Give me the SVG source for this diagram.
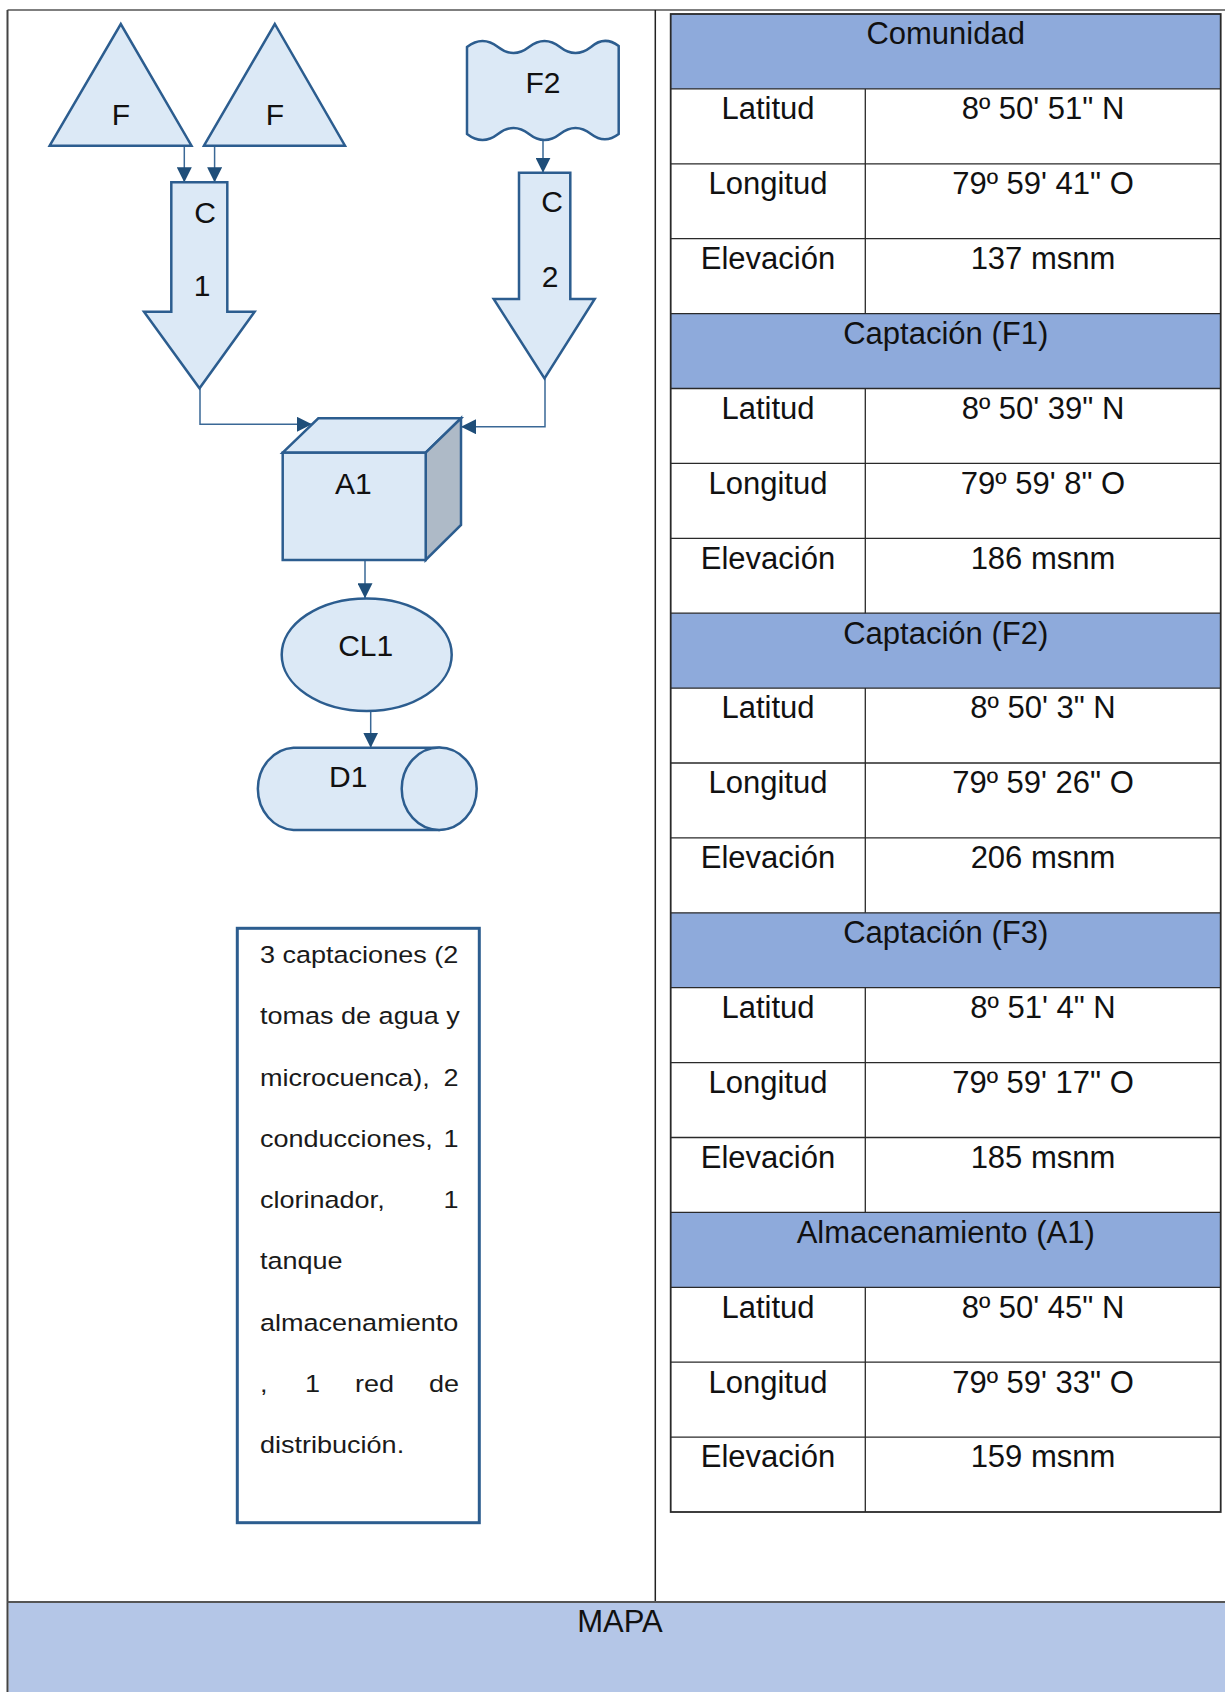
<svg xmlns="http://www.w3.org/2000/svg" width="1225" height="1692" viewBox="0 0 1225 1692">
<defs>
<style>
.shape{fill:#dce9f6;stroke:#2c5d8f;stroke-width:2.5;stroke-linejoin:miter}
.side{fill:#aebac7;stroke:#2c5d8f;stroke-width:2.5}
.lbl{font-family:"Liberation Sans",Arial,sans-serif;font-size:30px;fill:#111;text-anchor:middle}
.tt{font-family:"Liberation Sans",Arial,sans-serif;font-size:31px;fill:#111;text-anchor:middle}
.nt{font-family:"Liberation Sans",Arial,sans-serif;font-size:23.5px;fill:#1a1a1a}
.conn{fill:none;stroke:#3a6896;stroke-width:1.5}
.hdr{fill:#8eaadb}
.grid{stroke:#2a2a2a;stroke-width:1.3;fill:none}
</style>
<marker id="ah" viewBox="0 0 15 15" refX="15" refY="7.5" markerWidth="15" markerHeight="15" markerUnits="userSpaceOnUse" orient="auto">
<path d="M0,0 L15,7.5 L0,15 Z" fill="#1f4e79"/>
</marker>
</defs>
<rect x="0" y="0" width="1225" height="1692" fill="#ffffff"/>

<!-- frame -->
<g id="frame">
<rect x="8.5" y="1603" width="1216.5" height="89" fill="#b4c6e7"/>
<line x1="7.5" y1="10" x2="1225" y2="10" stroke="#555" stroke-width="1.5"/>
<line x1="7.5" y1="10" x2="7.5" y2="1692" stroke="#444" stroke-width="2"/>
<line x1="655.3" y1="10" x2="655.3" y2="1602" stroke="#222" stroke-width="1.5"/>
<line x1="7.5" y1="1602" x2="1225" y2="1602" stroke="#555" stroke-width="2"/>
<text class="tt" x="620" y="1632">MAPA</text>
</g>

<!-- connectors -->
<g id="connectors">
<path class="conn" d="M184.3,145.7 V182.3" marker-end="url(#ah)"/>
<path class="conn" d="M214.6,145.7 V182.3" marker-end="url(#ah)"/>
<path class="conn" d="M543,139 V172.7" marker-end="url(#ah)"/>
<path class="conn" d="M200,388.3 V424.3 H312" marker-end="url(#ah)"/>
<path class="conn" d="M545,378.3 V426.7 H461" marker-end="url(#ah)"/>
<path class="conn" d="M365,560 V598.3" marker-end="url(#ah)"/>
<path class="conn" d="M370.7,711 V747.7" marker-end="url(#ah)"/>
</g>

<g id="F1a">
<polygon class="shape" points="49.7,145.7 120.8,24 191.5,145.7"/>
<text class="lbl" x="121" y="125">F</text>
</g>
<g id="F1b">
<polygon class="shape" points="204,145.7 274.8,24 345,145.7"/>
<text class="lbl" x="275" y="125">F</text>
</g>
<g id="F2">
<path class="shape" d="M467,47 C477.3,39 487.7,39 498,47 C508.3,55 518.7,55 529,47 C539.3,39 549.7,39 560,47 C570.3,55 580.7,55 591,47 C600.2,39 609.5,39 618.7,46 L618.7,134 C609.5,141 600.2,141 591,134 C580.7,126 570.3,126 560,134 C549.7,142 539.3,142 529,134 C518.7,126 508.3,126 498,134 C487.7,142 477.3,142 467,134 Z"/>
<text class="lbl" x="543" y="93">F2</text>
</g>
<g id="C1">
<path class="shape" d="M171.3,182.3 H227.3 V311.7 H254.6 L199.5,388.3 L144,311.7 H171.3 Z"/>
<text class="lbl" x="205" y="222.7">C</text>
<text class="lbl" x="202" y="295.7">1</text>
</g>
<g id="C2">
<path class="shape" d="M519,172.7 H570.3 V299 H594.7 L544.5,378.3 L493.7,299 H519 Z"/>
<text class="lbl" x="552" y="212.3">C</text>
<text class="lbl" x="550" y="286.7">2</text>
</g>
<g id="A1">
<polygon class="shape" points="282.7,452.7 318.3,418.3 461,418.3 425.7,452.7"/>
<polygon class="side" points="425.7,452.7 461,418.3 461,525 425.7,560"/>
<rect class="shape" x="282.7" y="452.7" width="143" height="107.3"/>
<text class="lbl" x="353.3" y="494.3">A1</text>
</g>
<g id="CL1">
<ellipse class="shape" cx="366.7" cy="654.7" rx="85" ry="56.3"/>
<text class="lbl" x="365.7" y="655.7">CL1</text>
</g>
<g id="D1">
<path class="shape" d="M293.5,747.7 L439.2,747.7 A37.5,41.2 0 0 1 439.2,830 L293.5,830 A37.5,41.2 0 0 1 293.5,747.7 Z"/>
<ellipse class="shape" cx="439.2" cy="788.8" rx="37.5" ry="41.2"/>
<text class="lbl" x="348.3" y="787.3">D1</text>
</g>

<g id="note">
<rect x="237.3" y="928.3" width="242" height="594.4" fill="#ffffff" stroke="#2c5d8f" stroke-width="3"/>
<g transform="translate(260 0) scale(1.15 1)">
<text class="nt" x="0" y="963">3 captaciones (2</text>
<text class="nt" x="0" y="1024.3">tomas de agua y</text>
<text class="nt" x="0" y="1085.6">microcuenca),</text>
<text class="nt" x="172.6" y="1085.6" text-anchor="end">2</text>
<text class="nt" x="0" y="1146.9">conducciones,</text>
<text class="nt" x="172.6" y="1146.9" text-anchor="end">1</text>
<text class="nt" x="0" y="1208.2">clorinador,</text>
<text class="nt" x="172.6" y="1208.2" text-anchor="end">1</text>
<text class="nt" x="0" y="1269.5">tanque</text>
<text class="nt" x="0" y="1330.8">almacenamiento</text>
<text class="nt" x="0" y="1392.1">,</text>
<text class="nt" x="39.1" y="1392.1">1</text>
<text class="nt" x="82.6" y="1392.1">red</text>
<text class="nt" x="173" y="1392.1" text-anchor="end">de</text>
<text class="nt" x="0" y="1453.4">distribución.</text>
</g>
</g>

<g id="table">
<rect class="hdr" x="670.7" y="14" width="550" height="74.9"/>
<rect class="hdr" x="670.7" y="313.6" width="550" height="74.9"/>
<rect class="hdr" x="670.7" y="613.2" width="550" height="74.9"/>
<rect class="hdr" x="670.7" y="912.8" width="550" height="74.9"/>
<rect class="hdr" x="670.7" y="1212.4" width="550" height="74.9"/>
<g class="grid">
<rect x="670.7" y="14" width="550" height="1498" stroke-width="1.8"/>
<path d="M670.7,88.9H1220.7 M670.7,163.8H1220.7 M670.7,238.7H1220.7 M670.7,313.6H1220.7 M670.7,388.5H1220.7 M670.7,463.4H1220.7 M670.7,538.3H1220.7 M670.7,613.2H1220.7 M670.7,688.1H1220.7 M670.7,763H1220.7 M670.7,837.9H1220.7 M670.7,912.8H1220.7 M670.7,987.7H1220.7 M670.7,1062.6H1220.7 M670.7,1137.5H1220.7 M670.7,1212.4H1220.7 M670.7,1287.3H1220.7 M670.7,1362.2H1220.7 M670.7,1437.1H1220.7"/>
<path d="M865.3,88.9V313.6 M865.3,388.5V613.2 M865.3,688.1V912.8 M865.3,987.7V1212.4 M865.3,1287.3V1512"/>
</g>
<text class="tt" x="945.7" y="44.3">Comunidad</text>
<text class="tt" x="768" y="119.2">Latitud</text><text class="tt" x="1043" y="119.2">8º 50' 51" N</text>
<text class="tt" x="768" y="194.1">Longitud</text><text class="tt" x="1043" y="194.1">79º 59' 41" O</text>
<text class="tt" x="768" y="269">Elevación</text><text class="tt" x="1043" y="269">137 msnm</text>
<text class="tt" x="945.7" y="343.9">Captación (F1)</text>
<text class="tt" x="768" y="418.8">Latitud</text><text class="tt" x="1043" y="418.8">8º 50' 39" N</text>
<text class="tt" x="768" y="493.7">Longitud</text><text class="tt" x="1043" y="493.7">79º 59' 8" O</text>
<text class="tt" x="768" y="568.6">Elevación</text><text class="tt" x="1043" y="568.6">186 msnm</text>
<text class="tt" x="945.7" y="643.5">Captación (F2)</text>
<text class="tt" x="768" y="718.4">Latitud</text><text class="tt" x="1043" y="718.4">8º 50' 3" N</text>
<text class="tt" x="768" y="793.3">Longitud</text><text class="tt" x="1043" y="793.3">79º 59' 26" O</text>
<text class="tt" x="768" y="868.2">Elevación</text><text class="tt" x="1043" y="868.2">206 msnm</text>
<text class="tt" x="945.7" y="943.1">Captación (F3)</text>
<text class="tt" x="768" y="1018">Latitud</text><text class="tt" x="1043" y="1018">8º 51' 4" N</text>
<text class="tt" x="768" y="1092.9">Longitud</text><text class="tt" x="1043" y="1092.9">79º 59' 17" O</text>
<text class="tt" x="768" y="1167.8">Elevación</text><text class="tt" x="1043" y="1167.8">185 msnm</text>
<text class="tt" x="945.7" y="1242.7">Almacenamiento (A1)</text>
<text class="tt" x="768" y="1317.6">Latitud</text><text class="tt" x="1043" y="1317.6">8º 50' 45" N</text>
<text class="tt" x="768" y="1392.5">Longitud</text><text class="tt" x="1043" y="1392.5">79º 59' 33" O</text>
<text class="tt" x="768" y="1467.4">Elevación</text><text class="tt" x="1043" y="1467.4">159 msnm</text>
</g>
</svg>
